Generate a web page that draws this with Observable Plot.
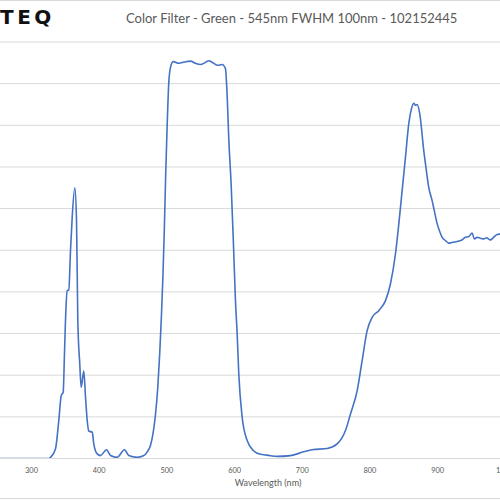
<!DOCTYPE html>
<html>
<head>
<meta charset="utf-8">
<script src="https://cdn.jsdelivr.net/npm/d3@7"></script>
<script src="https://cdn.jsdelivr.net/npm/@observablehq/plot@0.6"></script>
<style>
  html, body { margin: 0; padding: 0; background: #fff; }
  #wrap { position: relative; width: 500px; height: 500px; overflow: hidden; font-family: Lato, "Liberation Sans", sans-serif; }
  #chart { position: absolute; left: 0; top: 0; }
  .hline { position: absolute; left: 0; width: 500px; height: 1px; background: #d9d9d9; }
  #logo { position: absolute; left: 0; top: 5px; font-family: "DejaVu Sans", sans-serif; font-weight: bold; font-size: 20px; letter-spacing: 3.5px; color: #111; }
  #title { position: absolute; left: 126px; top: 10px; font-size: 13px; color: #595959; white-space: nowrap; }
  #xlabel { position: absolute; left: 0; width: 536px; text-align: center; top: 477px; font-size: 9px; color: #595959; }
</style>
</head>
<body>
<div id="wrap">
  <div id="chart"></div>
  <div class="hline" style="top:0px"></div>
  <div class="hline" style="top:498px"></div>
  <div id="logo">TEQ</div>
  <div id="title"></div>
  <div id="xlabel"></div>
</div>
<script>
const titleText = "Color Filter - Green - 545nm FWHM 100nm - 102152445";
const xLabel = "Wavelength (nm)";
const xTicks = [300, 400, 500, 600, 700, 800, 900, 1000];
const yTicks = [0, 10, 20, 30, 40, 50, 60, 70, 80, 90, 100];

const wavelength = [
  250, 300, 325.6, 328.1, 335.4, 340.3, 343.9, 346.8, 348.7, 350.2, 352.7, 355.1, 357.6, 360.1, 364.0,
  366.5, 368.4, 371.3, 373.4, 377.2, 379.8, 382.3, 384.6, 389.7, 392.0, 397.0, 401.9, 410.8, 416.7,
  426.6, 437.4, 443.7, 456.1, 465.9, 471, 475.8, 479.5, 483.1, 486.5, 489.5, 492, 494.2, 496.2, 498.2, 500.4, 502.8,
  505.3, 509.3, 517.6, 526, 534.8, 542, 549.6, 556, 561.9, 568, 575.2, 581.7, 586.5, 589.0, 591.4, 595.0,
  598.3, 601.3, 603.8, 606.2, 611.2, 618.6, 628.3, 638.2, 648.1, 662.9, 682.5, 702.2, 714.6, 736.8,
  751.5, 763.8, 771.2, 781.1, 788.4, 795.8, 803.2, 813.0, 822.9, 830.2, 837.6, 842.5, 847.5, 852.4,
  857.3, 861.3, 864.6, 867.2, 869.7, 873.5, 879.4, 883, 886.8, 891.8, 895, 899.2, 903, 906.6, 911, 916.4,
  922, 928.8, 935, 941.0, 946, 950.9, 954.3, 958.3, 963, 968.1, 972, 977.9, 982, 987.8, 992.7, 1000
];
const transmission = [
  0, 0, 0, 0.3, 2.3, 9.1, 15.1, 15.9, 25.2, 33.1, 40.3, 40.5, 49.9, 57.9, 65.0,
  57.1, 33.1, 22.7, 17.1, 21.0, 14.7, 9.1, 6.6, 6.3, 3.5, 1.1, 0.7, 2.1, 0.7,
  0.3, 2.1, 0.7, 0.3, 0.7, 1.6, 3.2, 6.0, 10.5, 17.0, 25.5, 34.5, 44.0, 55.0, 68.0, 80.0, 90.3,
  93.9, 95.3, 94.9, 95.2, 95.4, 94.9, 94.6, 95.0, 95.5, 95.0, 94.4, 94.6, 93.6, 87.2, 76.8, 65.5,
  51.5, 37.9, 29.9, 20.3, 9.9, 4.3, 1.8, 1.0, 0.8, 0.5, 0.7, 1.6, 2.1, 2.4,
  3.5, 6.7, 10.7, 16.3, 23.5, 30.7, 33.9, 35.5, 37.9, 41.9, 49.1, 56.2, 64.3, 72.3,
  80.4, 84.0, 85.3, 84.8, 85.0, 82.8, 74.0, 69.5, 65.1, 61.9, 59.5, 56.4, 54.5, 53.1, 52.4, 51.7,
  51.9, 52.1, 52.4, 53.1, 53.3, 54.1, 52.7, 53.1, 52.9, 52.7, 53.0, 52.5, 53.0, 53.8, 53.9, 54.0
];

const data = wavelength.map((w, i) => ({w, t: transmission[i]}));

document.getElementById("title").textContent = titleText;
document.getElementById("xlabel").textContent = xLabel;

const chart = Plot.plot({
  width: 500,
  height: 500,
  marginTop: 41.5,
  marginBottom: 42,
  marginLeft: 0,
  marginRight: 0,
  style: {fontFamily: "Lato, 'Liberation Sans', sans-serif", background: "transparent"},
  x: {domain: [254.2, 992.8]},
  y: {domain: [0, 100]},
  marks: [
    Plot.ruleY(yTicks, {stroke: "#d9d9d9", strokeWidth: 1}),
    Plot.axisX(xTicks, {tickSize: 0, tickPadding: 9, fontSize: 7.4, fill: "#595959", label: null}),
    Plot.axisY({ticks: [], label: null}),
    Plot.line(data, {x: "w", y: "t", stroke: "#4472C4", strokeWidth: 1.6, curve: "monotone-x", clip: true})
  ]
});
document.getElementById("chart").appendChild(chart);
</script>
</body>
</html>
